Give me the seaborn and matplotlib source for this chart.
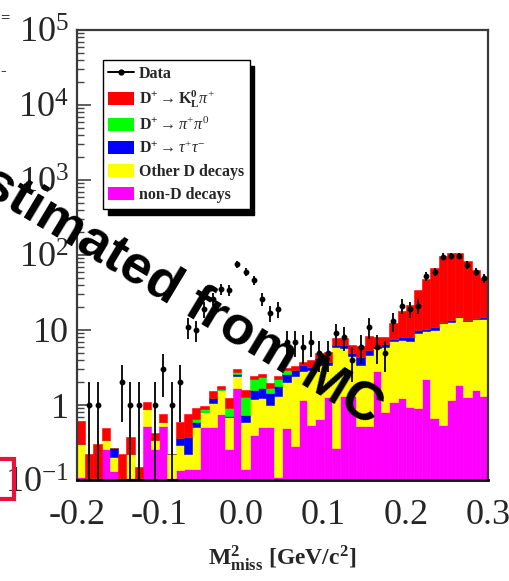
import numpy as np
import pandas as pd
import matplotlib
matplotlib.use("Agg")
import matplotlib.pyplot as plt
import seaborn as sns
from matplotlib.patches import Patch, Rectangle
from matplotlib.lines import Line2D
from matplotlib.ticker import LogLocator, NullFormatter

# ---------------- data (50 bins of 0.01 GeV^2/c^4 from -0.2 to 0.3) ----------------
x_min, x_max, bin_width = -0.2, 0.3, 0.01

data_counts = [0, 1, 1, 0, 0, 2, 1, 1, 0, 1,
               3, 1, 2, 11, 10, 19, 26, 35, 34, 75,
               60, 46, 26, 17, 19, 7, 7, 6, 7, 5,
               5, 9, 8, 4, 6, 11, 6, 5, 13, 21,
               19, 21, 52, 60, 95, 98, 98, 74, 60, 49]

non_d = [0.11, 0.105, 0.105, 0.26, 0.13, 0.105, 0.105, 0.105, 0.52, 0.26,
         0.52, 0.105, 0.136, 0.14, 0.14, 0.51, 0.51, 0.77, 0.26, 1.7,
         0.14, 0.40, 0.51, 0.51, 0.11, 0.50, 0.28, 1.17, 0.54, 0.66,
         1.29, 0.27, 1.30, 1.30, 0.52, 0.52, 2.80, 0.80, 1.10, 1.25,
         0.95, 0.92, 2.20, 0.68, 0.54, 1.17, 1.85, 1.26, 1.60, 1.30]

other_d = [0.19, 0.0, 0.0, 0.08, 0.07, 0.0, 0.115, 0.0, 0.37, 0.08,
           0.08, 0.115, 0.154, 0.08, 0.37, 0.30, 0.56, 0.83, 0.44, 0.70,
           0.46, 0.80, 0.72, 0.49, 1.19, 1.50, 2.12, 1.63, 2.41, 2.74,
           2.11, 5.73, 4.50, 3.20, 2.88, 4.08, 3.00, 5.20, 6.10, 6.15,
           6.25, 8.28, 7.60, 9.32, 11.76, 11.73, 12.95, 11.94, 12.40, 12.70]

tau_nu = [0.0, 0.0, 0.0, 0.0, 0.07, 0.0, 0.0, 0.0, 0.0, 0.0,
          0.0, 0.0, 0.07, 0.16, 0.09, 0.0, 0.18, 0.0, 0.02, 0.20,
          0.14, 0.40, 0.44, 0.45, 0.50, 0.60, 0.50, 0.60, 0.25, 0.80,
          0.40, 0.30, 0.50, 0.40, 1.00, 0.80, 0.40, 0.50, 0.50, 0.70,
          0.90, 0.80, 0.60, 0.80, 0.60, 0.70, 0.60, 0.40, 0.30, 0.80]

pipi0 = [0.0, 0.0, 0.0, 0.0, 0.0, 0.0, 0.0, 0.0, 0.0, 0.0,
         0.0, 0.0, 0.0, 0.0, 0.06, 0.08, 0.0, 0.05, 0.18, 0.15,
         0.55, 0.60, 0.67, 0.25, 0.40, 0.30, 0.0, 0.0, 0.0, 0.0,
         0.0, 0.0, 0.0, 0.0, 0.0, 0.0, 0.0, 0.0, 0.0, 0.0,
         0.0, 0.0, 0.0, 0.0, 0.0, 0.0, 0.0, 0.0, 0.0, 0.0]

klpi = [0.31, 0.115, 0.195, 0.15, 0.0, 0.115, 0.16, 0.045, 0.21, 0.08,
        0.15, 0.0, 0.23, 0.37, 0.24, 0.09, 0.30, 0.15, 0.33, 0.25,
        0.29, 0.25, 0.24, 0.25, 0.20, 0.20, 0.40, 0.40, 0.80, 0.70,
        1.30, 1.50, 1.50, 1.40, 1.70, 2.90, 1.90, 1.60, 4.60, 9.70,
        13.4, 24.0, 37.6, 57.2, 85.1, 91.4, 89.6, 68.4, 49.7, 35.2]

labels = [
    "Data",
    r"$\mathbf{D^{+}}\rightarrow\mathbf{K^{0}_{L}}\pi^{+}$",
    r"$\mathbf{D^{+}}\rightarrow\pi^{+}\pi^{0}$",
    r"$\mathbf{D^{+}}\rightarrow\tau^{+}\tau^{-}$",
    "Other D decays",
    "non-D decays",
]
comp_names = ["klpi", "pipi0", "taunu", "other", "nond"]
comp_colors = ["#FF0000", "#00FF00", "#0000FF", "#FFFF00", "#FF00FF"]

x_ticks = [-0.2, -0.1, 0.0, 0.1, 0.2, 0.3]
x_ticklabels = ["-0.2", "-0.1", "0.0", "0.1", "0.2", "0.3"]
y_ticks = [0.1, 1, 10, 1e2, 1e3, 1e4, 1e5]
y_ticklabels = [r"$10^{-1}$", "1", "10", r"$10^{2}$", r"$10^{3}$", r"$10^{4}$", r"$10^{5}$"]

# ---------------- build table ----------------
n_bins = len(data_counts)
edges = x_min + bin_width * np.arange(n_bins + 1)
centers = 0.5 * (edges[:-1] + edges[1:])
comp_values = dict(zip(comp_names, [klpi, pipi0, tau_nu, other_d, non_d]))
frames = []
for name in comp_names:
    frames.append(pd.DataFrame({"m2": centers, "w": np.asarray(comp_values[name], float),
                                "comp": name}))
df = pd.concat(frames, ignore_index=True)

# ---------------- style ----------------
sns.set_style("ticks")
plt.rcParams["font.family"] = ["Liberation Serif", "DejaVu Serif"]
plt.rcParams["mathtext.fontset"] = "custom"
plt.rcParams["mathtext.rm"] = "Liberation Serif"
plt.rcParams["mathtext.it"] = "Liberation Serif:italic"
plt.rcParams["mathtext.bf"] = "Liberation Serif:bold"
plt.rcParams["axes.unicode_minus"] = False

fig = plt.figure(figsize=(5.10, 5.81), dpi=100)
ax = fig.add_axes([77 / 510, 1 - 480 / 581, 411 / 510, 450 / 581])

sns.histplot(data=df, x="m2", weights="w", hue="comp", hue_order=comp_names,
             palette=comp_colors, multiple="stack", binwidth=bin_width,
             binrange=(x_min, x_max), element="bars",
             alpha=1, linewidth=0, legend=False, ax=ax)
for p in ax.patches:
    p.set_edgecolor(p.get_facecolor())
    p.set_linewidth(0.4)

ax.set_yscale("log")
ax.set_xlim(x_min, x_max)
ax.set_ylim(0.1, 1e5)

# data points with sqrt(N) error bars
counts = np.array(data_counts, dtype=float)
mask = counts > 0
err = np.sqrt(counts[mask])
lo = np.minimum(err, counts[mask] - 0.02)
ax.errorbar(centers[mask], counts[mask], yerr=[lo, err], fmt="o", color="k",
            ms=3.2, elinewidth=1.3, capsize=0, zorder=5)

# axes styling
ax.set_yticks(y_ticks)
ax.set_yticklabels(y_ticklabels)
ax.yaxis.set_minor_locator(LogLocator(base=10, subs=np.arange(2, 10), numticks=20))
ax.yaxis.set_minor_formatter(NullFormatter())
ax.set_xticks(x_ticks)
ax.set_xticklabels(x_ticklabels)
ax.tick_params(axis="y", which="major", direction="in", length=10, width=1.2,
               color="#444444", labelsize=26, pad=6)
ax.tick_params(axis="y", which="minor", direction="in", length=5, width=1.0,
               color="#444444")
ax.tick_params(axis="x", which="both", length=0, labelsize=26, pad=14)
for s in ax.spines.values():
    s.set_color("#3a3a3a")
    s.set_linewidth(1.6)
    s.set_visible(True)
ax.spines["bottom"].set_color("black")
ax.spines["bottom"].set_linewidth(2.0)
ax.set_ylabel("")
ax.set_xlabel(r"$\mathbf{M^{2}_{miss}}$ [GeV/c$^{\mathbf{2}}$]", fontsize=17,
              fontweight="bold", labelpad=8)

# legend
handles = [Line2D([], [], color="k", marker="o", ms=3.5, lw=1.4)]
handles += [Patch(facecolor=c, edgecolor="none") for c in comp_colors]
leg = ax.legend(handles, labels, loc="upper left", bbox_to_anchor=(0.063, 0.933),
                borderaxespad=0, frameon=True, fancybox=False, edgecolor="black",
                framealpha=1, prop={"family": "Liberation Serif", "weight": "bold", "size": 11.5},
                handlelength=1.6, handleheight=0.9, handletextpad=0.3,
                labelspacing=0.42, borderpad=0.35,
                shadow={"color": "k", "alpha": 1, "ox": 3.5, "oy": -4.5})
leg.get_frame().set_linewidth(1.0)
leg.set_zorder(6)

# overlaid slide text and decorations
fig.text(-47 / 510, 1 - 175 / 581, "estimated from MC", rotation=-31,
         rotation_mode="anchor", ha="left", va="baseline", fontsize=39,
         fontweight="bold", family="Liberation Sans", color="black", zorder=10)
fig.add_artist(Rectangle((-30 / 510, 1 - 498.5 / 581), 44.5 / 510, 40 / 581,
                         transform=fig.transFigure, fill=False,
                         edgecolor="#E8123F", linewidth=3.0, zorder=10))
fig.text(0.0, 1 - 18 / 581, "=", fontsize=12, ha="left", va="center", color="k")
fig.text(0.0, 1 - 71 / 581, "-", fontsize=12, ha="left", va="center", color="k")

fig.savefig("out.png", dpi=100)
